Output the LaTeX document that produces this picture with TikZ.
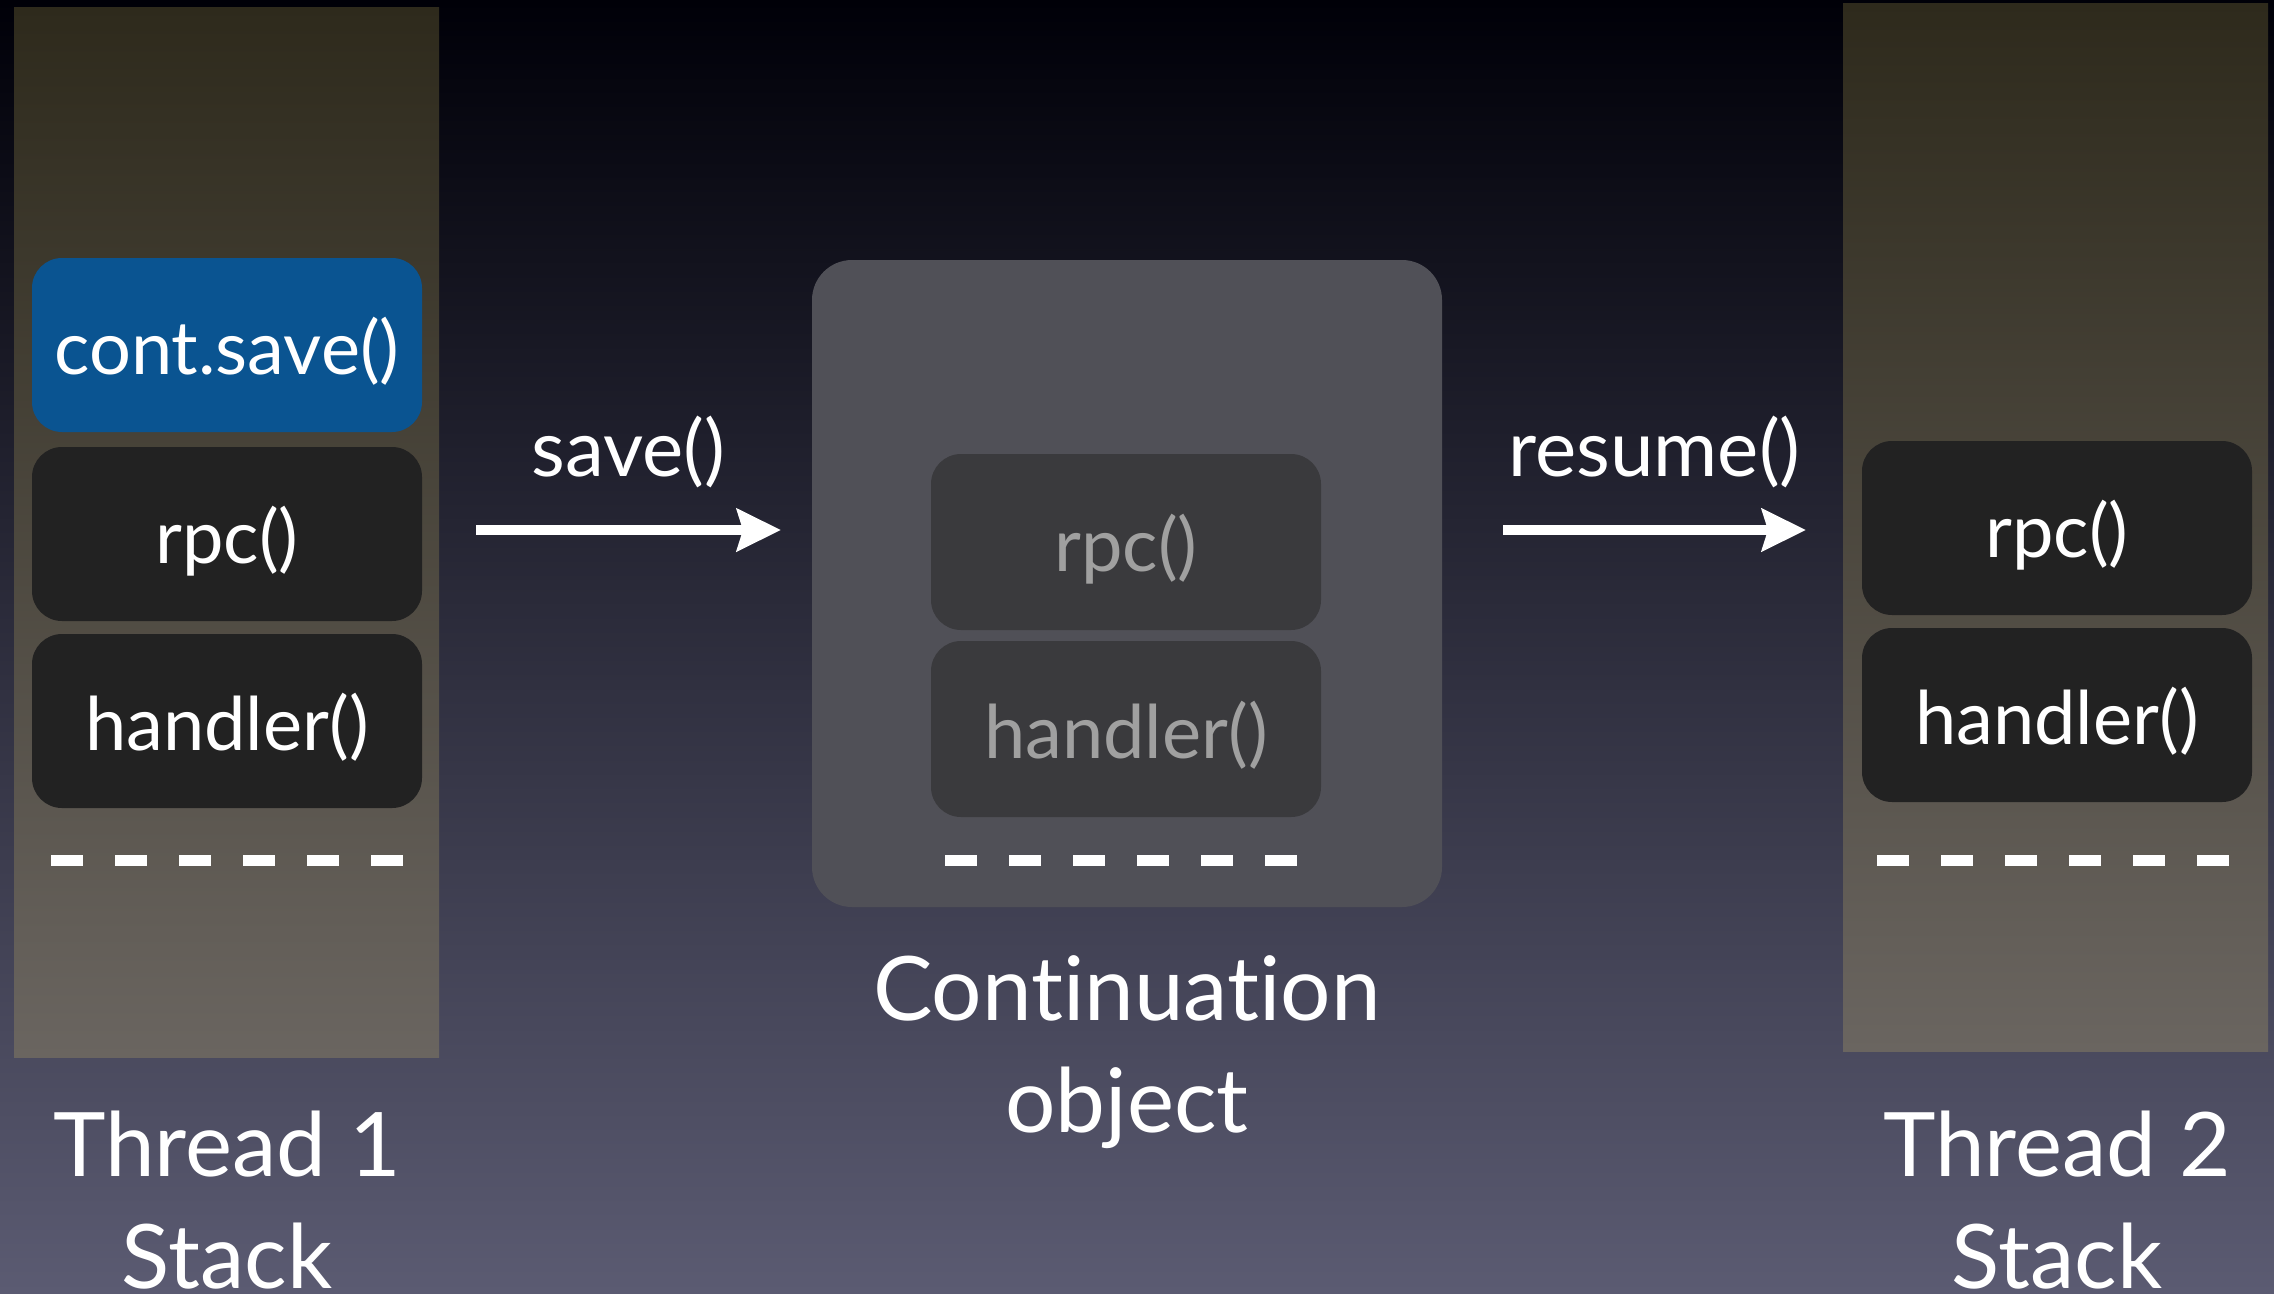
\documentclass[tikz,border=0pt]{standalone}
\usepackage{fontspec}
\setmainfont{Lato}[Ligatures=NoCommon]
\usetikzlibrary{arrows.meta}
\definecolor{skytop}{HTML}{000008}
\definecolor{skymid}{HTML}{26264A}
\definecolor{skybot}{HTML}{5B5B72}
\definecolor{stacktop}{HTML}{2E2A1C}
\definecolor{stackbot}{HTML}{6A6560}
\definecolor{callblue}{HTML}{0A5491}
\definecolor{callblack}{HTML}{222222}
\definecolor{contgray}{HTML}{505057}
\definecolor{oldcall}{HTML}{3A3A3D}
\definecolor{oldtext}{HTML}{A0A0A0}

\begin{document}
\begin{tikzpicture}[x=1pt,y=-1pt,
	call/.style={rectangle,rounded corners=30pt,minimum width=390pt,minimum height=174pt,
		text height=64pt,text depth=5pt,
		fill=callblack,text=white,font=\fontsize{74}{80}\selectfont},
	savedcall/.style={call,fill=oldcall,text=oldtext,minimum height=176pt},
	stackcol/.style={top color=stacktop,bottom color=stackbot},
	dashrow/.style={white,line width=11pt,dash pattern=on 32pt off 32pt},
	title/.style={text=white,align=center,font=\fontsize{89}{112}\selectfont},
	arr/.style={white,line width=10pt,-{Stealth[length=44pt,width=42pt,inset=6pt]}},
	arrlabel/.style={text=white,anchor=base,yshift=54pt,font=\fontsize{78}{80}\selectfont}]
			\useasboundingbox (0,0) rectangle (2274,1293);
			\shade [top color=skytop,middle color=skymid,bottom color=skybot] (0,0) rectangle (2274,1293);
			% thread 1
			\shade [stackcol] (14,7) rectangle (439,1057);
			\node [call,fill=callblue] (save1) at (227,345) {cont.save()};
			\node [call] (rpc1) at (227,534) {rpc()};
			\node [call] (handler1) at (227,721) {handler()};
			\draw [dashrow] (51,860) -- (404,860);
			\node [title] (thread1) at (227,1200) {Thread 1\\Stack};
			% continuation
			\fill [contgray,rounded corners=40pt] (812,260) rectangle (1442,907);
			\node [savedcall] (rpc0) at (1126,542) {rpc()};
			\node [savedcall] (handler0) at (1126,729) {handler()};
			\draw [dashrow] (945,860) -- (1298,860);
			\node [title] (cont) at (1127,1052) {Continuation\\object};
			% thread 2
			\shade [stackcol] (1843,3) rectangle (2268,1051);
			\node [call] (rpc2) at (2057,528) {rpc()};
			\node [call] (handler2) at (2057,715) {handler()};
			\draw [dashrow] (1877,860) -- (2230,860);
			\node [title] (thread2) at (2057,1200) {Thread 2\\Stack};
			\coordinate (savefrom) at (476,530);
			\coordinate (saveto) at (781,530);
			\coordinate (resumefrom) at (1503,530);
			\coordinate (resumeto) at (1806,530);
			\draw [arr] (savefrom) -- node [arrlabel] {save()} (saveto);
			\draw [arr] (resumefrom) -- node [arrlabel] {resume()} (resumeto);
\end{tikzpicture}
\end{document}
